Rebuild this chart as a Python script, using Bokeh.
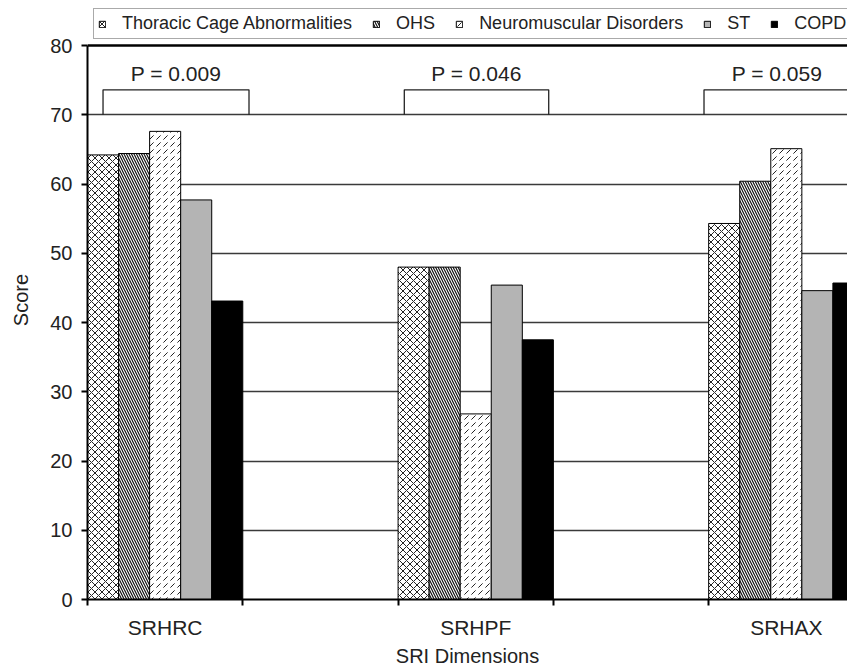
from bokeh.plotting import figure
from bokeh.models import ColumnDataSource, FixedTicker, Legend, LegendItem, Span, Range1d
from bokeh.embed import file_html
from bokeh.resources import INLINE
from bokeh.core.properties import value

# ---- data ----
categories = ["SRHRC", "SRHPF", "SRHAX"]
groups = ["Thoracic Cage Abnormalities", "OHS", "Neuromuscular Disorders", "ST", "COPD"]
thoracic = [64.2, 48.0, 54.3]
ohs = [64.4, 48.0, 60.4]
neuro = [67.6, 26.8, 65.1]
st = [57.7, 45.4, 44.6]
copd = [43.1, 37.5, 45.7]
y_ticks = [0, 10, 20, 30, 40, 50, 60, 70, 80]
p_labels = ["P = 0.009", "P = 0.046", "P = 0.059"]
bracket_start = [0.10, 2.04, 3.97]
bracket_end = [1.04, 2.97, 4.91]
bracket_low = 70
bracket_high = 73.6

series = [thoracic, ohs, neuro, st, copd]
styles = [
    dict(fill_color="white", hatch_pattern="diagonal_cross", hatch_scale=7, hatch_weight=1, hatch_color="#222"),
    dict(fill_color="white", hatch_pattern="left_diagonal_line", hatch_scale=5, hatch_weight=1.2, hatch_color="#111"),
    dict(fill_color="white", hatch_pattern="right_diagonal_dash", hatch_scale=7, hatch_weight=1, hatch_color="#222"),
    dict(fill_color="#b4b4b4"),
    dict(fill_color="black"),
]

FONT = "Liberation Sans"
n_slots = 2 * len(categories)
slot_w = 1.0 / len(groups)
TOP_SPACE = 45      # pixels above the 80 line kept for the legend
PLOT_H = 554        # pixels from 0 to 80
y_max = y_ticks[-1]
y_top = y_max * (PLOT_H + TOP_SPACE) / PLOT_H

p = figure(width=847, height=670, output_backend="svg", toolbar_location=None,
           x_range=Range1d(0, 4.894), y_range=Range1d(0, y_top),
           min_border_left=87, min_border_right=0, min_border_top=0, min_border_bottom=71)
p.outline_line_color = None
p.xgrid.visible = False
p.ygrid.ticker = FixedTicker(ticks=y_ticks[1:-1])
p.ygrid.grid_line_color = "#3a3a3a"
p.ygrid.grid_line_width = 1.3

renderers = []
for j, (vals, st_) in enumerate(zip(series, styles)):
    xs = [2 * i + (j + 0.5) * slot_w for i in range(len(categories))]
    src = ColumnDataSource(dict(x=xs, top=vals))
    r = p.vbar(x="x", top="top", bottom=0, width=slot_w, source=src,
               line_color="black", line_width=1, **st_)
    renderers.append(r)

p.add_layout(Span(location=y_max, dimension="width", line_color="black", line_width=2.5))

# brackets
bxs = [[s, s, e, e] for s, e in zip(bracket_start, bracket_end)]
bys = [[bracket_low, bracket_high, bracket_high, bracket_low] for _ in bracket_start]
p.multi_line(xs=bxs, ys=bys, line_color="#222", line_width=1.3)
p_x = [(s + e) / 2 for s, e in zip(bracket_start, bracket_end)]
p.text(x=p_x, y=[75.9] * len(p_x), text=p_labels, text_align="center", text_baseline="middle",
       text_font=value(FONT), text_font_size="21px", text_color="#222")

# axes
p.yaxis.ticker = FixedTicker(ticks=y_ticks)
p.yaxis.bounds = (0, y_max)
p.yaxis.axis_line_width = 2
p.yaxis.major_tick_out = 6
p.yaxis.major_tick_in = 0
p.yaxis.major_tick_line_width = 2
p.yaxis.major_label_standoff = 9
p.yaxis.axis_label = "Score"
p.yaxis.axis_label_standoff = 15

label_pos = [2 * i + 0.5 for i in range(len(categories))]
p.xaxis.ticker = FixedTicker(ticks=label_pos, minor_ticks=list(range(n_slots)))
p.xaxis.major_label_overrides = {pos: c for pos, c in zip(label_pos, categories)}
p.xaxis.major_tick_out = 0
p.xaxis.major_tick_in = 0
p.xaxis.minor_tick_out = 6
p.xaxis.minor_tick_in = 0
p.xaxis.minor_tick_line_width = 2
p.xaxis.axis_line_width = 2
p.xaxis.major_label_standoff = 10
p.xaxis.axis_label = "SRI Dimensions"
p.xaxis.axis_label_standoff = 3

for ax in (p.xaxis[0], p.yaxis[0]):
    ax.major_label_text_font = FONT
    ax.major_label_text_color = "#222"
    ax.axis_label_text_font = FONT
    ax.axis_label_text_font_size = "20px"
    ax.axis_label_text_font_style = "normal"
    ax.axis_label_text_color = "#222"
    ax.axis_line_color = "black"
    ax.major_tick_line_color = "black"
    ax.minor_tick_line_color = "black"
p.xaxis.major_label_text_font_size = "21px"
p.yaxis.major_label_text_font_size = "20px"

legend = Legend(items=[LegendItem(label=g, renderers=[r]) for g, r in zip(groups, renderers)],
                orientation="horizontal", location=(6, PLOT_H + 6),
                glyph_width=8, glyph_height=8, label_standoff=16, spacing=20,
                padding=4, margin=0, label_height=19,
                label_text_font=FONT, label_text_font_size="18px", label_text_color="#222",
                border_line_color="#555", border_line_width=1)
p.add_layout(legend, "center")

open("out.html", "w").write(file_html(p, INLINE))
